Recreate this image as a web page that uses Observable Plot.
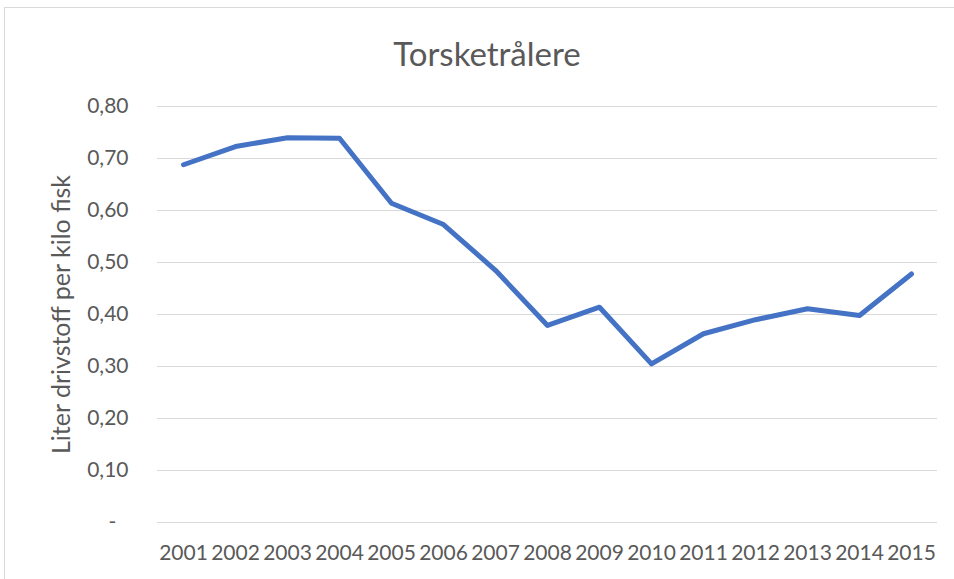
<!DOCTYPE html>
<html>
<head>
<meta charset="utf-8">
<script src="https://cdn.jsdelivr.net/npm/d3@7"></script>
<script src="https://cdn.jsdelivr.net/npm/@observablehq/plot@0.6"></script>
<style>
  html, body { margin: 0; padding: 0; background: #fff; overflow: hidden; }
  #wrap { position: relative; width: 954px; height: 579px; overflow: hidden; font-family: Lato, "Open Sans", sans-serif; }
  #border { position: absolute; left: 4px; top: 7px; width: 980px; height: 600px; border: 1px solid #d9d9d9; box-sizing: border-box; }
  #title { position: absolute; left: 0; top: 37px; width: 974px; text-align: center; font-size: 33px; line-height: 33px; color: #595959; font-family: Lato, sans-serif; }
  #chart { position: absolute; left: 0; top: 0; }
</style>
</head>
<body>
<div id="wrap">
  <div id="border"></div>
  <div id="chart"></div>
  <div id="title">Torsketrålere</div>
</div>
<script>
const years = ["2001","2002","2003","2004","2005","2006","2007","2008","2009","2010","2011","2012","2013","2014","2015"];
const values = [0.688,0.723,0.740,0.739,0.614,0.573,0.485,0.379,0.414,0.305,0.363,0.390,0.411,0.398,0.478];
const yTicks = [0,0.1,0.2,0.3,0.4,0.5,0.6,0.7,0.8];
const yTickLabels = ["-\u2007","0,10","0,20","0,30","0,40","0,50","0,60","0,70","0,80"];
const yLabel = "Liter drivstoff per kilo fisk";

const data = years.map((y, i) => ({year: y, value: values[i]}));

const chart = Plot.plot({
  width: 954,
  height: 579,
  marginLeft: 157,
  marginRight: 17,
  marginTop: 106,
  marginBottom: 57,
  style: {fontFamily: "Lato, 'Open Sans', sans-serif", fontSize: "21px", color: "#595959", background: "transparent", overflow: "visible"},
  x: {type: "point", domain: years, padding: 0.5},
  y: {domain: [0, 0.8]},
  marks: [
    Plot.gridY(yTicks, {stroke: "#d9d9d9", strokeOpacity: 1, strokeWidth: 1.2}),
    Plot.axisY(yTicks, {tickSize: 0, tickPadding: 29, tickFormat: (d) => yTickLabels[yTicks.indexOf(d)], label: null, fill: "#595959", fontSize: 21}),
    Plot.axisX(years, {tickSize: 0, tickPadding: 23, label: null, fill: "#595959", fontSize: 21}),
    Plot.line(data, {x: "year", y: "value", stroke: "#4472C4", strokeWidth: 5, strokeLinecap: "round", strokeLinejoin: "round"}),
    Plot.text([yLabel], {frameAnchor: "left", textAnchor: "middle", lineAnchor: "middle", dx: -96, rotate: -90, text: (d) => d, fill: "#595959", fontSize: 25})
  ]
});
document.getElementById("chart").appendChild(chart);
</script>
</body>
</html>
